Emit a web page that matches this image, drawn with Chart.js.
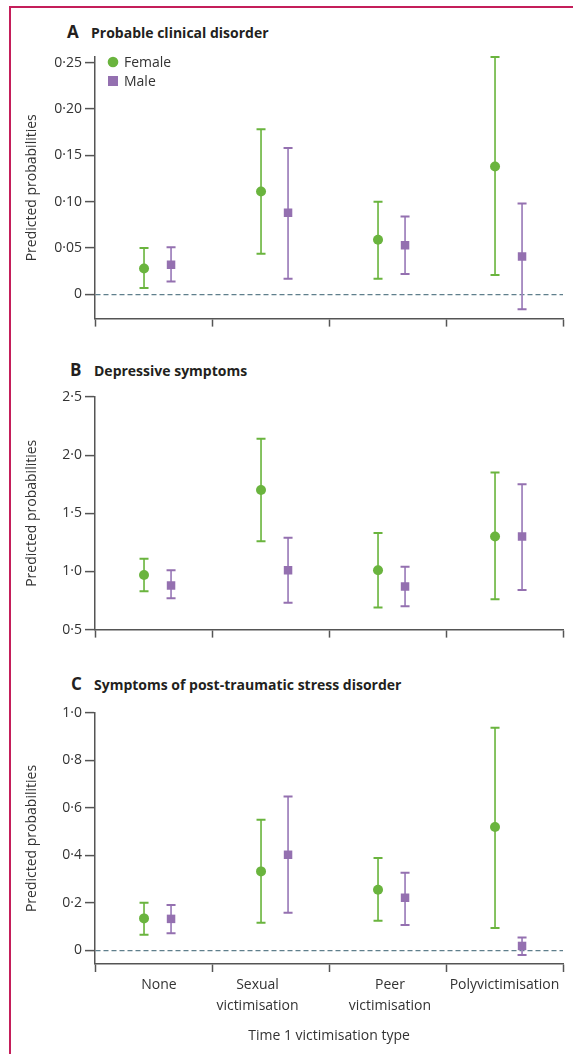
<!DOCTYPE html>
<html>
<head>
<meta charset="utf-8">
<script src="https://cdn.jsdelivr.net/npm/chart.js@4.4.0/dist/chart.umd.min.js"></script>
<style>
body{margin:0;background:#fff;}
#page{position:relative;width:573px;height:1054px;overflow:hidden;font-family:'Open Sans',sans-serif;}
#frame{position:absolute;left:9px;top:6px;width:600px;height:1100px;border-left:2px solid #c41e5a;border-top:2px solid #c41e5a;}
canvas{position:absolute;left:0;}
.ttl{position:absolute;font-weight:700;font-size:14px;color:#231f20;white-space:nowrap;line-height:20px;}
.ttl.big{font-size:17px;}
</style>
</head>
<body>
<div id="page">
	<div id="frame"></div>
	<div class="ttl big" style="left:67px;top:22px">A</div>
	<div class="ttl" style="left:91px;top:23px">Probable clinical disorder</div>
	<div class="ttl big" style="left:70px;top:360px">B</div>
	<div class="ttl" style="left:94px;top:361px">Depressive symptoms</div>
	<div class="ttl big" style="left:71px;top:674px">C</div>
	<div class="ttl" style="left:94px;top:675px">Symptoms of post-traumatic stress disorder</div>
	<canvas id="chartA" width="573" height="290" style="top:40px"></canvas>
	<canvas id="chartB" width="573" height="256" style="top:385px"></canvas>
	<canvas id="chartC" width="573" height="354" style="top:700px"></canvas>
</div>
<script>
// categories (x axis) and series
const categories = [['None'], ['Sexual', 'victimisation'], ['Peer', 'victimisation'], ['Polyvictimisation']];
const seriesNames = ['Female', 'Male'];

// A - probable clinical disorder
const clinicalFemale = [0.028, 0.111, 0.059, 0.138];
const clinicalFemaleLow = [0.007, 0.044, 0.017, 0.021];
const clinicalFemaleHigh = [0.050, 0.178, 0.100, 0.256];
const clinicalMale = [0.032, 0.088, 0.053, 0.041];
const clinicalMaleLow = [0.014, 0.017, 0.022, -0.016];
const clinicalMaleHigh = [0.051, 0.158, 0.084, 0.098];
const clinicalTicks = [0, 0.05, 0.10, 0.15, 0.20, 0.25];

// B - depressive symptoms
const depressFemale = [0.97, 1.70, 1.01, 1.30];
const depressFemaleLow = [0.83, 1.26, 0.69, 0.76];
const depressFemaleHigh = [1.11, 2.14, 1.33, 1.85];
const depressMale = [0.88, 1.01, 0.87, 1.30];
const depressMaleLow = [0.77, 0.73, 0.70, 0.84];
const depressMaleHigh = [1.01, 1.29, 1.04, 1.75];
const depressTicks = [0.5, 1.0, 1.5, 2.0, 2.5];

// C - PTSD symptoms
const ptsdFemale = [0.135, 0.333, 0.256, 0.520];
const ptsdFemaleLow = [0.066, 0.117, 0.125, 0.095];
const ptsdFemaleHigh = [0.201, 0.550, 0.389, 0.938];
const ptsdMale = [0.133, 0.403, 0.222, 0.019];
const ptsdMaleLow = [0.073, 0.159, 0.107, -0.019];
const ptsdMaleHigh = [0.191, 0.648, 0.327, 0.055];
const ptsdTicks = [0, 0.2, 0.4, 0.6, 0.8, 1.0];

// layout / style
const femaleShift = -0.081;
const maleShift = 0.15;
const labelShift = [0.047, -0.111, 0.021, 0];
const green = '#6ab43e';
const purple = '#9470b0';
const axisColor = '#555';
const zeroColor = '#5f7f8c';
const fontFamily = "'Open Sans', sans-serif";

function fmt(v, d) {
	return v === 0 ? '0' : v.toFixed(d).replace('.', '\u00b7');
}

function points(vals, low, high, shift) {
	return vals.map((v, i) => ({x: i + 0.5 + shift, y: v, lo: low[i], hi: high[i]}));
}

const errorBars = {
	id: 'errorBars',
	beforeDatasetsDraw(chart) {
		const {ctx, scales: {x, y}} = chart;
		chart.data.datasets.forEach(ds => {
			ds.data.forEach(p => {
				const px = x.getPixelForValue(p.x);
				const top = y.getPixelForValue(p.hi);
				const bot = y.getPixelForValue(p.lo);
				ctx.save();
				ctx.strokeStyle = ds.barColor;
				ctx.lineWidth = 1.8;
				ctx.beginPath();
				ctx.moveTo(px, top);
				ctx.lineTo(px, bot);
				ctx.stroke();
				ctx.strokeStyle = ds.backgroundColor;
				ctx.lineWidth = 2;
				ctx.beginPath();
				ctx.moveTo(px - 4.5, top);
				ctx.lineTo(px + 4.5, top);
				ctx.moveTo(px - 4.5, bot);
				ctx.lineTo(px + 4.5, bot);
				ctx.stroke();
				ctx.restore();
			});
		});
	}
};

const keyPlugin = {
	id: 'key',
	afterDraw(chart, args, opts) {
		if (!opts.show) return;
		const {ctx, chartArea} = chart;
		chart.data.datasets.forEach((ds, i) => {
			const cx = chartArea.left + 18;
			const cy = chartArea.top + 5 + i * 19;
			ctx.save();
			ctx.fillStyle = ds.backgroundColor;
			if (ds.pointStyle === 'circle') {
				ctx.beginPath();
				ctx.arc(cx, cy, 5.3, 0, Math.PI * 2);
				ctx.fill();
			} else {
				ctx.fillRect(cx - 5, cy - 5, 10, 10);
			}
			ctx.fillStyle = '#333';
			ctx.font = '14px ' + fontFamily;
			ctx.textBaseline = 'middle';
			ctx.fillText(ds.label, chartArea.left + 29, cy + 1);
			ctx.restore();
		});
	}
};

function makePanel(id, o) {
	const xTicks = [0, 1, 2, 3, 4];
	if (o.labels) categories.forEach((c, i) => xTicks.push(i + 0.5 + labelShift[i]));
	return new Chart(document.getElementById(id), {
		type: 'scatter',
		data: {
			datasets: [{
				label: seriesNames[0],
				data: points(o.female, o.femaleLow, o.femaleHigh, femaleShift),
				backgroundColor: green,
				barColor: '#79bc50',
				borderWidth: 0,
				pointStyle: 'circle',
				pointRadius: 5,
				pointHoverRadius: 5
			}, {
				label: seriesNames[1],
				data: points(o.male, o.maleLow, o.maleHigh, maleShift),
				backgroundColor: purple,
				barColor: '#a386bf',
				borderWidth: 0,
				pointStyle: 'rect',
				pointRadius: 6,
				pointHoverRadius: 6
			}]
		},
		options: {
			responsive: false,
			animation: false,
			layout: {padding: {top: o.padTop, right: 10, left: 0, bottom: 0}},
			plugins: {
				legend: {display: false},
				tooltip: {enabled: false},
				key: {show: !!o.legend}
			},
			scales: {
				x: {
					type: 'linear',
					min: 0,
					max: 4,
					afterBuildTicks: s => { s.ticks = xTicks.slice().sort((a, b) => a - b).map(v => ({value: v})); },
					afterFit: s => { s.height = o.xHeight; },
					border: {color: axisColor, width: 1.5},
					grid: {
						drawOnChartArea: false,
						tickLength: 8,
						tickWidth: 1.5,
						tickColor: c => (c.tick && Number.isInteger(c.tick.value)) ? axisColor : 'rgba(0,0,0,0)'
					},
					ticks: {
						autoSkip: false,
						maxRotation: 0,
						padding: 3,
						color: '#333',
						font: {family: fontFamily, size: 14, lineHeight: 1.5},
						callback: v => {
							if (!o.labels || Number.isInteger(v)) return '';
							const i = Math.floor(v + 0.2);
							return categories[Math.min(i, 3)];
						}
					},
					title: {
						display: !!o.labels,
						text: 'Time 1 victimisation type',
						color: '#333',
						font: {family: fontFamily, size: 14},
						padding: {top: 0, bottom: 10}
					}
				},
				y: {
					min: o.min,
					max: o.max,
					afterBuildTicks: s => { s.ticks = o.ticks.map(v => ({value: v})); },
					afterFit: s => { s.width = 95; },
					border: {color: axisColor, width: 1.5, dash: [5, 3]},
					grid: {
						color: c => (c.tick && c.tick.value === 0) ? zeroColor : 'rgba(0,0,0,0)',
						lineWidth: 1.2,
						tickColor: axisColor,
						tickLength: 10,
						tickWidth: 1.5
					},
					ticks: {
						padding: 3,
						color: '#333',
						font: {family: fontFamily, size: 14},
						callback: v => fmt(v, o.decimals)
					},
					title: {
						display: true,
						text: 'Predicted probabilities',
						color: '#333',
						font: {family: fontFamily, size: 14},
						padding: {top: 24, bottom: 0}
					}
				}
			}
		},
		plugins: [errorBars, keyPlugin]
	});
}

const chartA = makePanel('chartA', {
	female: clinicalFemale, femaleLow: clinicalFemaleLow, femaleHigh: clinicalFemaleHigh,
	male: clinicalMale, maleLow: clinicalMaleLow, maleHigh: clinicalMaleHigh,
	ticks: clinicalTicks, min: -0.026, max: 0.256, decimals: 2,
	padTop: 17, xHeight: 10, legend: true
});

const chartB = makePanel('chartB', {
	female: depressFemale, femaleLow: depressFemaleLow, femaleHigh: depressFemaleHigh,
	male: depressMale, maleLow: depressMaleLow, maleHigh: depressMaleHigh,
	ticks: depressTicks, min: 0.5, max: 2.5, decimals: 1,
	padTop: 12, xHeight: 10
});

const chartC = makePanel('chartC', {
	female: ptsdFemale, femaleLow: ptsdFemaleLow, femaleHigh: ptsdFemaleHigh,
	male: ptsdMale, maleLow: ptsdMaleLow, maleHigh: ptsdMaleHigh,
	ticks: ptsdTicks, min: -0.057, max: 1.0, decimals: 1,
	padTop: 13, xHeight: 90, labels: true
});
</script>
</body>
</html>
